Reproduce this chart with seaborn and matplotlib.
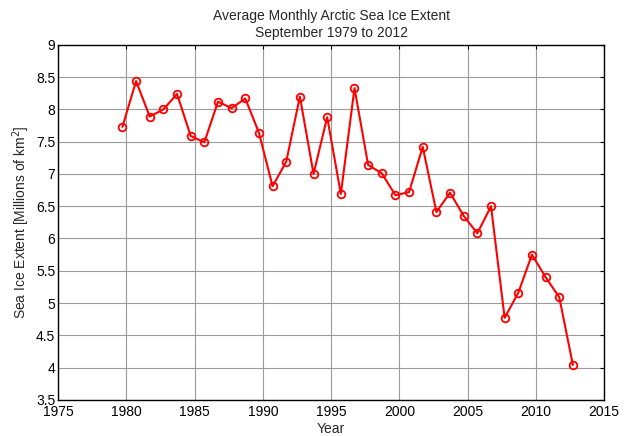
import numpy as np
import pandas as pd
import matplotlib
matplotlib.use("Agg")
import matplotlib.pyplot as plt
import seaborn as sns

# September extent, 1979-2012 (millions of km^2)
years = list(range(1979, 2013))
extent = [7.73, 8.44, 7.89, 8.00, 8.24, 7.59, 7.49, 8.12, 8.02, 8.17,
          7.64, 6.81, 7.19, 8.20, 7.00, 7.88, 6.69, 8.33, 7.14, 7.01,
          6.67, 6.72, 7.42, 6.41, 6.71, 6.35, 6.08, 6.50, 4.77, 5.16,
          5.75, 5.40, 5.09, 4.04]
month = 9  # September, plotted at mid-month as a decimal year

x_ticks = list(range(1975, 2016, 5))
y_ticks = [3.5, 4, 4.5, 5, 5.5, 6, 6.5, 7, 7.5, 8, 8.5, 9]

df = pd.DataFrame({"year": years, "extent": extent})
df["t"] = df["year"] + (month - 0.5) / 12

sns.set_style("white")
plt.rcParams["font.family"] = ["Liberation Sans", "DejaVu Sans"]
plt.rcParams["font.size"] = 10

fig = plt.figure(figsize=(6.32, 4.36), dpi=100)
ax = fig.add_axes([0.092, 0.083, 0.864, 0.814])

sns.lineplot(data=df, x="t", y="extent", ax=ax, color="#ff0000",
             linewidth=1.5, marker="o", markersize=5.5,
             markerfacecolor="none", markeredgecolor="#ff0000",
             markeredgewidth=1.3)

ax.set_xlim(1975, 2015)
ax.set_ylim(3.5, 9)
ax.set_xticks(x_ticks)
ax.set_yticks(y_ticks)
ax.set_yticklabels([f"{v:g}" for v in y_ticks])
ax.grid(True, color="#9a9a9a", linewidth=0.8)
ax.set_axisbelow(True)
for s in ax.spines.values():
    s.set_color("black")
    s.set_linewidth(1.0)
ax.tick_params(direction="in", length=3, width=0.8, top=True, right=True,
               labelsize=10, colors="black")
ax.tick_params(axis="x", pad=4)
ax.tick_params(axis="y", pad=2)

ax.set_xlabel("Year", fontsize=10, labelpad=2)
ax.set_ylabel("Sea Ice Extent [Millions of km$^2$]", fontsize=10, labelpad=3)
ax.set_title("Average Monthly Arctic Sea Ice Extent\nSeptember 1979 to 2012",
             fontsize=10, pad=6, linespacing=1.2)

fig.savefig("out.png", dpi=100, facecolor="white")
